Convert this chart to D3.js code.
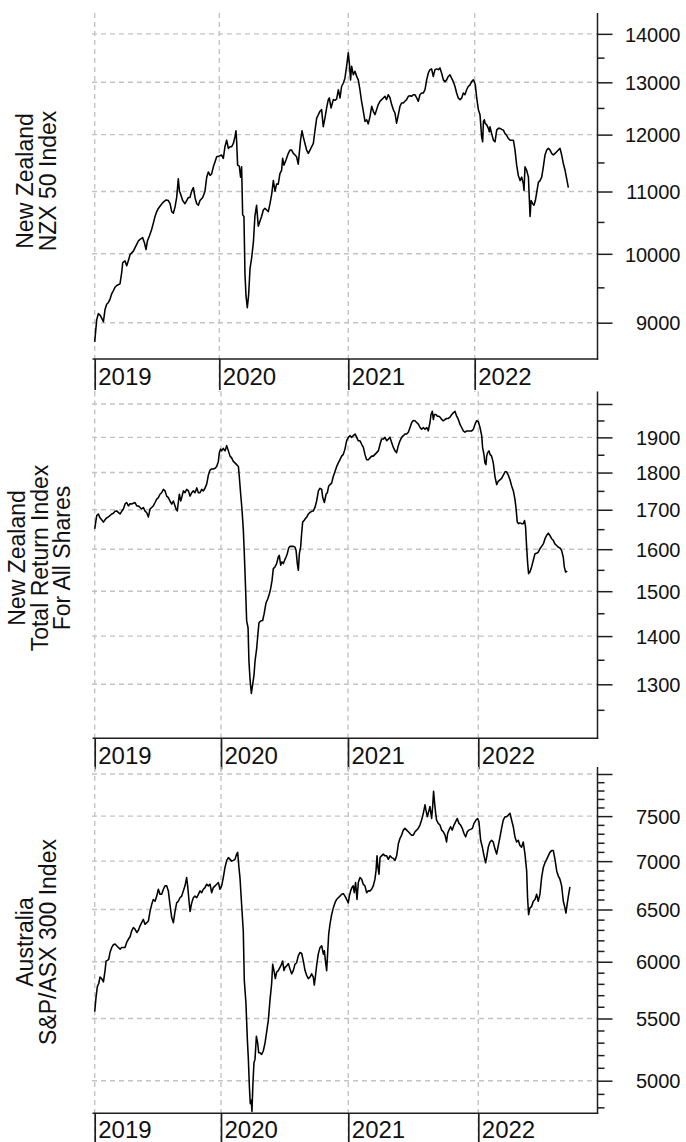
<!DOCTYPE html>
<html><head><meta charset="utf-8">
<script src="https://cdn.jsdelivr.net/npm/d3@7"></script>
<style>
html,body{margin:0;padding:0;background:#fff;}
svg{display:block;}
text{font-family:"Liberation Sans",Arial,Helvetica,sans-serif;fill:#111;}
</style></head><body>
<svg id="chart" width="686" height="1142"></svg>
<script>
// ---------------- DATA ----------------
const years = [2019, 2020, 2021, 2022];

const nzx50Title = ["New Zealand", "NZX 50 Index"];
const nzx50Major = [9000, 10000, 11000, 12000, 13000, 14000];
const nzx50Labeled = [9000, 10000, 11000, 12000, 13000, 14000];
const nzx50Minor = [9500, 10500, 11500, 12500, 13500];

const nztrTitle = ["New Zealand", "Total Return Index", "For All Shares"];
const nztrMajor = [1300, 1400, 1500, 1600, 1700, 1800, 1900, 2000];
const nztrLabeled = [1300, 1400, 1500, 1600, 1700, 1800, 1900];
const nztrMinor = [1250, 1350, 1450, 1550, 1650, 1750, 1850, 1950];

const asxTitle = ["Australia", "S&P/ASX 300 Index"];
const asxMajor = [5000, 5500, 6000, 6500, 7000, 7500, 8000];
const asxLabeled = [5000, 5500, 6000, 6500, 7000, 7500];
const asxMinor = [4800, 4900, 5100, 5200, 5300, 5400, 5600, 5700, 5800, 5900, 6100, 6200, 6300, 6400,
  6600, 6700, 6800, 6900, 7100, 7200, 7300, 7400, 7600, 7700, 7800, 7900];

// [decimal year, index value]
const nzx50 = [[2019.000,8740],[2019.016,9039],[2019.029,9126],[2019.043,9106],[2019.056,9063],[2019.070,9014],[2019.083,9185],[2019.096,9258],[2019.110,9283],[2019.123,9331],[2019.136,9405],[2019.150,9453],[2019.163,9502],[2019.177,9527],[2019.203,9551],[2019.217,9722],[2019.225,9868],[2019.243,9893],[2019.257,9819],[2019.270,9893],[2019.284,9990],[2019.297,10015],[2019.310,10041],[2019.337,10146],[2019.350,10198],[2019.364,10224],[2019.385,10250],[2019.399,10172],[2019.412,10067],[2019.423,10198],[2019.439,10276],[2019.457,10380],[2019.471,10484],[2019.484,10588],[2019.498,10667],[2019.511,10719],[2019.530,10771],[2019.551,10823],[2019.573,10859],[2019.591,10849],[2019.605,10797],[2019.618,10667],[2019.631,10641],[2019.645,10745],[2019.658,10901],[2019.671,11215],[2019.680,11006],[2019.690,10953],[2019.706,10849],[2019.725,10797],[2019.738,10849],[2019.752,10901],[2019.765,10901],[2019.778,11006],[2019.792,11066],[2019.805,10901],[2019.819,10797],[2019.832,10771],[2019.845,10849],[2019.867,10901],[2019.885,11006],[2019.899,11244],[2019.912,11334],[2019.926,11274],[2019.939,11304],[2019.952,11423],[2019.966,11512],[2019.979,11601],[2020.000,11613],
[2020.018,11631],[2020.031,11572],[2020.044,11780],[2020.057,11899],[2020.070,11750],[2020.083,11780],[2020.096,11780],[2020.109,11839],[2020.121,11958],[2020.129,12071],[2020.134,11899],[2020.142,11453],[2020.155,11435],[2020.165,11244],[2020.173,11423],[2020.181,10614],[2020.191,10588],[2020.199,9697],[2020.207,9380],[2020.217,9209],[2020.227,9380],[2020.238,9771],[2020.251,9941],[2020.264,10172],[2020.276,10588],[2020.289,10771],[2020.302,10432],[2020.315,10510],[2020.328,10588],[2020.341,10693],[2020.354,10719],[2020.367,10693],[2020.380,10667],[2020.393,10797],[2020.406,10953],[2020.419,11185],[2020.432,11006],[2020.444,11125],[2020.457,11125],[2020.470,11304],[2020.483,11363],[2020.491,11572],[2020.501,11453],[2020.517,11542],[2020.535,11661],[2020.548,11720],[2020.561,11720],[2020.574,11661],[2020.587,11631],[2020.599,11601],[2020.612,11470],[2020.620,11661],[2020.630,11899],[2020.641,12071],[2020.651,11958],[2020.664,11839],[2020.677,11720],[2020.690,11661],[2020.703,11720],[2020.716,11780],[2020.729,11839],[2020.742,12083],[2020.755,12308],[2020.780,12436],[2020.793,12468],[2020.806,12147],[2020.819,12308],[2020.832,12500],[2020.845,12660],[2020.853,12692],
[2020.866,12500],[2020.884,12660],[2020.897,12647],[2020.910,12673],[2020.923,12853],[2020.936,12692],[2020.948,12917],[2020.961,12981],[2020.974,13082],[2020.987,13324],[2021.000,13600],[2021.008,13393],[2021.018,13048],[2021.026,13324],[2021.040,13151],[2021.053,13220],[2021.066,13117],[2021.079,13048],[2021.092,12853],[2021.105,12628],[2021.119,12436],[2021.132,12244],[2021.145,12276],[2021.158,12199],[2021.172,12340],[2021.185,12532],[2021.198,12436],[2021.211,12372],[2021.224,12468],[2021.237,12564],[2021.251,12628],[2021.264,12660],[2021.277,12692],[2021.290,12724],[2021.303,12660],[2021.316,12756],[2021.330,12692],[2021.343,12564],[2021.356,12468],[2021.369,12404],[2021.382,12212],[2021.396,12372],[2021.409,12532],[2021.422,12596],[2021.435,12596],[2021.448,12628],[2021.461,12660],[2021.475,12724],[2021.488,12737],[2021.501,12724],[2021.514,12756],[2021.527,12756],[2021.541,12692],[2021.554,12628],[2021.567,12756],[2021.580,12788],[2021.593,12788],[2021.607,12853],[2021.620,13048],[2021.633,13186],[2021.646,13255],[2021.659,13269],[2021.672,13117],[2021.686,13255],[2021.699,13269],[2021.712,13255],[2021.725,13289],[2021.738,13186],[2021.752,13048],[2021.765,13013],[2021.778,13048],[2021.791,13117],[2021.804,13151],[2021.817,13082],[2021.831,13013],[2021.844,12917],[2021.857,12788],[2021.870,12692],[2021.884,12660],[2021.897,12692],[2021.910,12788],[2021.923,12756],[2021.936,12853],[2021.949,12917],[2021.963,12949],[2021.976,13013],[2021.989,13048],[2021.997,13013],
[2022.005,12949],[2022.016,12692],[2022.029,12468],[2022.042,12372],[2022.055,11958],[2022.063,11869],[2022.069,12244],[2022.076,12276],[2022.082,12212],[2022.095,12180],[2022.108,12115],[2022.116,12051],[2022.121,12147],[2022.134,12019],[2022.148,11899],[2022.161,11869],[2022.174,12083],[2022.187,12115],[2022.200,12115],[2022.214,12096],[2022.227,12083],[2022.240,12019],[2022.253,11988],[2022.266,11929],[2022.280,11899],[2022.293,11899],[2022.306,11899],[2022.319,11720],[2022.332,11453],[2022.345,11274],[2022.359,11185],[2022.372,11244],[2022.385,11125],[2022.390,11018],[2022.398,11423],[2022.411,11363],[2022.425,11244],[2022.438,10588],[2022.446,10849],[2022.459,10797],[2022.469,10771],[2022.480,10849],[2022.490,10979],[2022.504,11155],[2022.517,11185],[2022.530,11244],[2022.543,11423],[2022.556,11631],[2022.570,11720],[2022.583,11750],[2022.596,11720],[2022.609,11661],[2022.622,11631],[2022.636,11661],[2022.649,11690],[2022.662,11720],[2022.675,11750],[2022.688,11631],[2022.701,11482],[2022.715,11363],[2022.728,11215],[2022.741,11066]];

const nztr = [[2019.000,1651],[2019.016,1685],[2019.029,1689],[2019.042,1679],[2019.055,1674],[2019.069,1668],[2019.082,1674],[2019.095,1679],[2019.108,1681],[2019.121,1685],[2019.135,1689],[2019.148,1691],[2019.161,1696],[2019.174,1697],[2019.187,1693],[2019.201,1689],[2019.214,1696],[2019.227,1702],[2019.240,1715],[2019.253,1719],[2019.267,1710],[2019.280,1716],[2019.293,1715],[2019.306,1717],[2019.319,1719],[2019.333,1710],[2019.346,1710],[2019.359,1706],[2019.372,1702],[2019.385,1706],[2019.398,1697],[2019.412,1692],[2019.425,1681],[2019.438,1702],[2019.451,1706],[2019.464,1710],[2019.478,1719],[2019.491,1728],[2019.504,1732],[2019.517,1741],[2019.530,1745],[2019.544,1754],[2019.557,1750],[2019.570,1736],[2019.583,1732],[2019.596,1723],[2019.610,1715],[2019.623,1723],[2019.636,1710],[2019.644,1702],[2019.654,1697],[2019.662,1719],[2019.670,1741],[2019.681,1723],[2019.689,1732],[2019.702,1750],[2019.715,1745],[2019.728,1754],[2019.742,1750],[2019.755,1736],[2019.768,1745],[2019.781,1750],[2019.794,1745],[2019.808,1758],[2019.821,1745],[2019.834,1745],[2019.847,1754],[2019.860,1750],[2019.873,1757],[2019.887,1769],[2019.900,1793],[2019.913,1807],[2019.926,1810],[2019.939,1810],[2019.953,1812],[2019.966,1817],[2019.979,1831],[2019.987,1856],[2019.997,1866],
[2020.005,1861],[2020.018,1868],[2020.032,1861],[2020.045,1876],[2020.058,1861],[2020.071,1846],[2020.084,1841],[2020.097,1831],[2020.110,1827],[2020.123,1822],[2020.137,1817],[2020.144,1789],[2020.155,1741],[2020.165,1702],[2020.176,1647],[2020.184,1585],[2020.194,1502],[2020.202,1433],[2020.213,1418],[2020.220,1347],[2020.228,1312],[2020.239,1282],[2020.249,1299],[2020.260,1319],[2020.268,1347],[2020.281,1374],[2020.289,1399],[2020.299,1429],[2020.312,1433],[2020.328,1434],[2020.339,1448],[2020.354,1473],[2020.368,1482],[2020.381,1494],[2020.391,1506],[2020.402,1525],[2020.412,1553],[2020.425,1557],[2020.438,1565],[2020.451,1581],[2020.459,1585],[2020.470,1561],[2020.480,1569],[2020.491,1565],[2020.501,1573],[2020.512,1581],[2020.522,1589],[2020.533,1603],[2020.543,1607],[2020.556,1607],[2020.570,1607],[2020.583,1605],[2020.591,1597],[2020.601,1565],[2020.609,1549],[2020.617,1589],[2020.627,1605],[2020.635,1639],[2020.643,1668],[2020.654,1672],[2020.662,1676],[2020.675,1681],[2020.688,1689],[2020.701,1693],[2020.714,1696],[2020.727,1697],[2020.740,1706],[2020.753,1723],[2020.767,1750],[2020.780,1757],[2020.793,1754],[2020.801,1732],[2020.814,1719],[2020.827,1741],[2020.837,1745],[2020.848,1763],
[2020.871,1771],[2020.884,1789],[2020.897,1802],[2020.911,1817],[2020.924,1827],[2020.937,1836],[2020.950,1846],[2020.963,1851],[2020.976,1866],[2020.989,1890],[2021.003,1900],[2021.015,1905],[2021.028,1900],[2021.041,1905],[2021.054,1910],[2021.067,1900],[2021.079,1890],[2021.092,1890],[2021.105,1880],[2021.118,1871],[2021.130,1851],[2021.143,1836],[2021.156,1836],[2021.169,1841],[2021.182,1846],[2021.194,1846],[2021.207,1851],[2021.220,1856],[2021.233,1861],[2021.246,1880],[2021.258,1895],[2021.271,1895],[2021.284,1900],[2021.297,1890],[2021.310,1895],[2021.322,1900],[2021.335,1885],[2021.348,1871],[2021.361,1861],[2021.373,1856],[2021.386,1876],[2021.399,1890],[2021.412,1900],[2021.425,1905],[2021.437,1910],[2021.450,1910],[2021.463,1915],[2021.476,1929],[2021.489,1944],[2021.501,1950],[2021.514,1949],[2021.527,1944],[2021.540,1939],[2021.553,1929],[2021.565,1924],[2021.578,1929],[2021.591,1924],[2021.604,1929],[2021.616,1919],[2021.629,1944],[2021.637,1968],[2021.647,1978],[2021.655,1953],[2021.663,1968],[2021.675,1968],[2021.686,1963],[2021.696,1963],[2021.706,1960],[2021.719,1953],[2021.732,1949],[2021.744,1953],[2021.757,1956],[2021.770,1956],[2021.783,1960],[2021.796,1968],[2021.808,1973],[2021.821,1978],[2021.834,1963],[2021.847,1953],[2021.859,1939],[2021.872,1929],[2021.885,1919],[2021.898,1915],[2021.911,1919],[2021.923,1919],[2021.936,1919],[2021.949,1919],[2021.962,1924],[2021.975,1939],[2021.987,1949],
[2022.000,1947],[2022.013,1929],[2022.026,1905],[2022.033,1871],[2022.043,1851],[2022.051,1827],[2022.059,1822],[2022.064,1846],[2022.072,1856],[2022.082,1861],[2022.090,1851],[2022.102,1846],[2022.115,1827],[2022.128,1789],[2022.141,1767],[2022.153,1776],[2022.166,1780],[2022.179,1784],[2022.192,1793],[2022.205,1802],[2022.217,1802],[2022.230,1793],[2022.243,1780],[2022.256,1763],[2022.269,1750],[2022.281,1728],[2022.289,1706],[2022.299,1668],[2022.309,1664],[2022.320,1666],[2022.332,1664],[2022.345,1664],[2022.355,1672],[2022.363,1655],[2022.371,1605],[2022.379,1565],[2022.386,1541],[2022.396,1545],[2022.409,1557],[2022.422,1573],[2022.435,1589],[2022.448,1590],[2022.460,1593],[2022.473,1601],[2022.486,1607],[2022.499,1613],[2022.512,1626],[2022.524,1634],[2022.537,1640],[2022.550,1634],[2022.563,1626],[2022.575,1622],[2022.588,1613],[2022.601,1609],[2022.614,1605],[2022.627,1603],[2022.639,1597],[2022.652,1581],[2022.660,1557],[2022.670,1545],[2022.683,1547]];

const asx300 = [[2019.000,5558],[2019.011,5688],[2019.021,5775],[2019.032,5803],[2019.042,5861],[2019.055,5847],[2019.069,5818],[2019.082,5919],[2019.090,6006],[2019.100,6013],[2019.111,6022],[2019.121,6085],[2019.135,6133],[2019.148,6158],[2019.161,6165],[2019.174,6149],[2019.187,6133],[2019.201,6117],[2019.214,6133],[2019.227,6133],[2019.240,6133],[2019.253,6180],[2019.267,6212],[2019.280,6234],[2019.293,6291],[2019.306,6323],[2019.319,6307],[2019.333,6275],[2019.346,6297],[2019.359,6339],[2019.372,6370],[2019.385,6402],[2019.398,6354],[2019.412,6370],[2019.425,6386],[2019.438,6481],[2019.451,6549],[2019.464,6601],[2019.478,6583],[2019.491,6635],[2019.504,6705],[2019.517,6653],[2019.530,6653],[2019.544,6705],[2019.557,6740],[2019.570,6740],[2019.583,6688],[2019.596,6549],[2019.610,6418],[2019.623,6370],[2019.636,6481],[2019.649,6566],[2019.662,6583],[2019.675,6618],[2019.689,6635],[2019.702,6688],[2019.715,6740],[2019.728,6826],[2019.736,6740],[2019.747,6583],[2019.755,6481],[2019.768,6566],[2019.781,6618],[2019.794,6635],[2019.808,6618],[2019.821,6653],[2019.834,6688],[2019.847,6670],[2019.860,6705],[2019.873,6722],[2019.887,6757],[2019.900,6740],[2019.913,6757],[2019.926,6670],[2019.939,6722],[2019.953,6740],[2019.966,6757],[2019.979,6774],[2019.992,6705],
[2020.005,6740],[2020.018,6826],[2020.031,6931],[2020.045,7008],[2020.058,7038],[2020.071,7019],[2020.084,7000],[2020.097,7008],[2020.110,7019],[2020.123,7076],[2020.131,7095],[2020.141,6931],[2020.149,6826],[2020.162,6549],[2020.175,6291],[2020.183,5832],[2020.196,5630],[2020.207,5326],[2020.215,5166],[2020.223,4954],[2020.230,4827],[2020.238,4852],[2020.243,4770],[2020.251,4980],[2020.259,5139],[2020.267,5166],[2020.278,5353],[2020.288,5299],[2020.296,5219],[2020.306,5219],[2020.319,5206],[2020.332,5233],[2020.346,5299],[2020.359,5393],[2020.372,5487],[2020.385,5659],[2020.398,5803],[2020.406,5977],[2020.416,5919],[2020.427,5847],[2020.437,5905],[2020.450,5919],[2020.463,5948],[2020.476,5977],[2020.484,6006],[2020.495,5919],[2020.503,5948],[2020.516,5962],[2020.529,5983],[2020.542,5934],[2020.555,5890],[2020.568,5919],[2020.581,5977],[2020.594,5991],[2020.607,6054],[2020.620,6085],[2020.634,6076],[2020.647,6006],[2020.660,5919],[2020.673,5876],[2020.686,5847],[2020.699,5861],[2020.712,5890],[2020.725,5861],[2020.733,5789],[2020.741,5861],[2020.751,5962],[2020.764,6070],[2020.778,6133],[2020.791,6149],[2020.804,6070],[2020.812,6101],[2020.822,5991],[2020.830,5919],[2020.838,6085],[2020.846,6259],[2020.856,6354],[2020.869,6449],[2020.882,6514],[2020.895,6566],[2020.908,6601],[2020.921,6618],[2020.935,6635],[2020.948,6653],[2020.961,6660],[2020.974,6635],[2020.987,6601],
[2021.000,6566],[2021.008,6635],[2021.018,6688],[2021.028,6722],[2021.038,6740],[2021.046,6670],[2021.056,6774],[2021.067,6601],[2021.077,6774],[2021.090,6826],[2021.103,6809],[2021.115,6757],[2021.128,6740],[2021.141,6670],[2021.154,6688],[2021.167,6688],[2021.179,6705],[2021.192,6740],[2021.205,6809],[2021.213,6896],[2021.221,7057],[2021.228,6931],[2021.236,6861],[2021.244,7038],[2021.256,7057],[2021.269,7076],[2021.282,7057],[2021.295,7057],[2021.308,7019],[2021.321,7057],[2021.333,7038],[2021.346,7030],[2021.359,7008],[2021.372,7057],[2021.385,7189],[2021.397,7246],[2021.410,7284],[2021.423,7341],[2021.436,7360],[2021.449,7341],[2021.462,7322],[2021.474,7303],[2021.487,7284],[2021.500,7284],[2021.513,7322],[2021.526,7341],[2021.538,7360],[2021.551,7398],[2021.564,7455],[2021.577,7532],[2021.590,7631],[2021.597,7571],[2021.608,7492],[2021.615,7532],[2021.628,7611],[2021.641,7473],[2021.649,7611],[2021.656,7790],[2021.664,7651],[2021.672,7532],[2021.679,7455],[2021.692,7417],[2021.705,7398],[2021.718,7341],[2021.731,7322],[2021.744,7284],[2021.756,7208],[2021.764,7303],[2021.774,7341],[2021.787,7379],[2021.800,7341],[2021.813,7398],[2021.826,7436],[2021.838,7473],[2021.851,7417],[2021.864,7398],[2021.877,7360],[2021.890,7303],[2021.903,7265],[2021.915,7322],[2021.928,7341],[2021.941,7349],[2021.954,7360],[2021.967,7417],[2021.982,7455],[2021.995,7473],
[2022.005,7436],[2022.018,7227],[2022.031,7152],[2022.044,7057],[2022.056,6983],[2022.064,7038],[2022.077,7152],[2022.090,7208],[2022.103,7227],[2022.115,7208],[2022.128,7133],[2022.141,7076],[2022.154,7170],[2022.167,7265],[2022.179,7360],[2022.192,7455],[2022.205,7492],[2022.218,7492],[2022.231,7512],[2022.244,7532],[2022.256,7455],[2022.269,7379],[2022.282,7265],[2022.295,7208],[2022.308,7227],[2022.320,7170],[2022.333,7152],[2022.346,7208],[2022.359,7076],[2022.372,6896],[2022.379,6618],[2022.387,6449],[2022.397,6514],[2022.410,6531],[2022.423,6583],[2022.436,6601],[2022.449,6653],[2022.461,6583],[2022.474,6653],[2022.487,6826],[2022.500,6931],[2022.513,6983],[2022.526,7019],[2022.538,7057],[2022.551,7095],[2022.564,7114],[2022.577,7114],[2022.590,7019],[2022.603,6896],[2022.615,6844],[2022.628,6809],[2022.641,6740],[2022.654,6583],[2022.667,6514],[2022.674,6465],[2022.685,6566],[2022.695,6653],[2022.705,6729]];

// ---------------- LAYOUT ----------------
const AXIS_X = 597.5, GRID_LEFT = 92, XAXIS_LEFT = 92.5;
const panels = [
  { data: nzx50, title: nzx50Title, major: nzx50Major, labeled: nzx50Labeled, minor: nzx50Minor,
    top: 13, axisY: 359, labelY: 26, xr: [94.7, 219.3, 348.3, 474.7],
    yd: [9000, 13000], yr: [322.7, 82.3], titleX: [25, 48], titleY: 181 },
  { data: nztr, title: nztrTitle, major: nztrMajor, labeled: nztrLabeled, minor: nztrMinor,
    top: 391.5, axisY: 738.3, labelY: 26, xr: [94.7, 221, 348, 478.3],
    yd: [1300, 2000], yr: [684.3, 404], titleX: [17, 39.5, 62], titleY: 558 },
  { data: asx300, title: asxTitle, major: asxMajor, labeled: asxLabeled, minor: asxMinor,
    top: 767, axisY: 1113.3, labelY: 24.5, xr: [94.7, 221, 348.3, 478.3],
    yd: [5000, 8000], yr: [1080.7, 774], titleX: [25, 48], titleY: 942 }
];

const svg = d3.select("#chart");
svg.append("rect").attr("width", 686).attr("height", 1142).attr("fill", "#fff");

const GRID = "#c3c3c3", AXC = "#1e1e1e";

panels.forEach(p => {
  const x = d3.scaleLinear().domain(years).range(p.xr);
  const y = d3.scaleLog().domain(p.yd).range(p.yr);
  const g = svg.append("g");

  // horizontal dashed grid
  g.selectAll(null).data(p.major).join("line")
    .attr("x1", GRID_LEFT).attr("x2", AXIS_X)
    .attr("y1", d => y(d)).attr("y2", d => y(d))
    .attr("stroke", GRID).attr("stroke-width", 1.4).attr("stroke-dasharray", "5,4");

  // vertical dashed grid (continues through label band)
  g.selectAll(null).data(years).join("line")
    .attr("x1", d => x(d)).attr("x2", d => x(d))
    .attr("y1", p.top).attr("y2", p.axisY + 33)
    .attr("stroke", GRID).attr("stroke-width", 1.4).attr("stroke-dasharray", "5,4");

  // series line
  g.append("path").datum(p.data)
    .attr("fill", "none").attr("stroke", "#000").attr("stroke-width", 1.55)
    .attr("stroke-linejoin", "round")
    .attr("d", d3.line().x(d => x(d[0])).y(d => y(d[1])));

  // y axis line
  g.append("line").attr("x1", AXIS_X).attr("x2", AXIS_X)
    .attr("y1", p.top).attr("y2", p.axisY + 0.7)
    .attr("stroke", AXC).attr("stroke-width", 1.5);

  // y axis minor ticks
  const yMinor = g.append("g").attr("transform", `translate(${AXIS_X},0)`)
    .call(d3.axisRight(y).tickValues(p.minor).tickSize(7).tickFormat(""));
  yMinor.select(".domain").remove();
  yMinor.selectAll(".tick line").attr("stroke", AXC).attr("stroke-width", 1.5);

  // y axis major ticks + labels
  const yMajor = g.append("g").attr("transform", `translate(${AXIS_X},0)`)
    .call(d3.axisRight(y).tickValues(p.major).tickSize(15)
      .tickFormat(d => p.labeled.includes(d) ? String(d) : ""));
  yMajor.select(".domain").remove();
  yMajor.selectAll(".tick line").attr("stroke", AXC).attr("stroke-width", 1.5);
  yMajor.selectAll(".tick text")
    .attr("x", 83).attr("dy", "0.36em").attr("text-anchor", "end")
    .style("font-size", "20px").style("font-family", "'Liberation Sans', Arial, sans-serif")
    .attr("fill", "#111");

  // x axis line
  g.append("line").attr("x1", XAXIS_LEFT).attr("x2", AXIS_X + 0.7)
    .attr("y1", p.axisY).attr("y2", p.axisY)
    .attr("stroke", AXC).attr("stroke-width", 1.5);

  // x axis year ticks + labels
  const xa = g.append("g").attr("transform", `translate(0,${p.axisY})`)
    .call(d3.axisBottom(x).tickValues(years).tickSize(31).tickFormat(d3.format("d")));
  xa.select(".domain").remove();
  xa.selectAll(".tick line").attr("stroke", AXC).attr("stroke-width", 1.7);
  xa.selectAll(".tick text")
    .attr("x", 3).attr("y", p.labelY).attr("dy", 0).attr("text-anchor", "start")
    .style("font-size", "24px").style("font-family", "'Liberation Sans', Arial, sans-serif")
    .attr("fill", "#111");

  // rotated y titles
  p.title.forEach((t, i) => {
    g.append("text")
      .attr("transform", `translate(${p.titleX[i]},${p.titleY}) rotate(-90)`)
      .attr("text-anchor", "middle").attr("dominant-baseline", "central")
      .style("font-size", "23px").attr("fill", "#222")
      .text(t);
  });
});
</script>
</body></html>
